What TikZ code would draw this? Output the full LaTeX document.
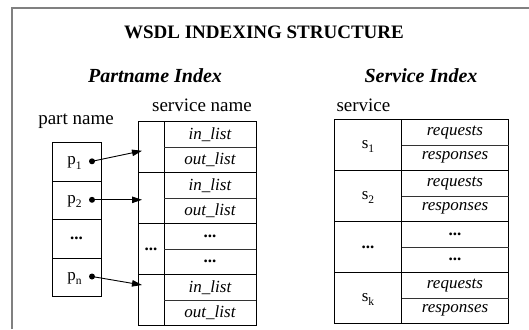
\documentclass[tikz,border=0pt]{standalone}
\usepackage{fontspec}
\setmainfont{Liberation Serif}
\usetikzlibrary{arrows.meta}
% subscript index set lower and larger than \textsubscript
\newcommand{\idx}[1]{\raisebox{-4.5pt}{\fontsize{11.5}{12}\selectfont #1}}
\begin{document}
\begin{tikzpicture}[x=1pt,y=-1pt,
  outerframe/.style={draw=black!50, line width=1.6pt},
  tablebox/.style={draw=black, line width=0.9pt},
  rowsep/.style={draw=black!80, line width=0.55pt, dash pattern=on 0.5pt off 0.5pt},
  heading/.style={font=\fontsize{19}{22}\selectfont\bfseries},
  subhead/.style={font=\fontsize{20}{24}\selectfont\bfseries\itshape},
  caption/.style={font=\fontsize{19}{22}\selectfont},
  cell/.style={font=\fontsize{17}{20}\selectfont},
  entry/.style={font=\fontsize{17}{20}\selectfont\itshape},
  link/.style={-{Triangle[length=10pt,width=6.5pt]}, line width=0.9pt},
  dotmark/.style={circle, fill=black, inner sep=0pt, minimum size=6pt}
]
\useasboundingbox (0,0) rectangle (529,329);
% outer frame
\draw[outerframe] (12,329) -- (12,8) -- (529,8);

% headings
\node[heading] (title) at (264,32) {WSDL INDEXING STRUCTURE};
\node[subhead] (pidx) at (155,76) {Partname Index};
\node[subhead] (sidx) at (421,76) {Service Index};
\node[caption] (snamelbl) at (202,105) {service name};
\node[caption, anchor=west] (svclbl) at (333,105) {service};
\node[caption] (pnamelbl) at (76,121) {part name};

% part name index
\draw[tablebox] (52,142.5) rectangle (101,296.5);
\foreach \y in {181,219.5,258} \draw[tablebox] (52,\y) -- (101,\y);
\node[cell] (p1) at (74.5,163) {p\idx{1}};
\node[cell] (p2) at (74.5,201.5) {p\idx{2}};
\node[cell] (pdots) at (76.5,238.75) {\textbf{...}};
\node[cell] (pn) at (74.5,278.5) {p\idx{n}};
\node[dotmark] (d1) at (92,161.3) {};
\node[dotmark] (d2) at (92,199.8) {};
\node[dotmark] (dn) at (92,276.5) {};

% service name lists
\draw[tablebox] (138,121.5) rectangle (256,325.5);
\draw[tablebox] (164,121.5) -- (164,325.5);
\foreach \y in {172.5,223.5,274.5} \draw[tablebox] (138,\y) -- (256,\y);
\foreach \y in {147,198,249,300} \draw[rowsep] (164,\y) -- (256,\y);
\node[entry] (in1) at (210,134.25) {in\_list};
\node[entry] (out1) at (210,159.75) {out\_list};
\node[entry] (in2) at (210,185.25) {in\_list};
\node[entry] (out2) at (210,210.75) {out\_list};
\node[cell] (ldots1) at (210,236.25) {\textbf{...}};
\node[cell] (ldots2) at (210,261.75) {\textbf{...}};
\node[cell] (ldots) at (151,249) {\textbf{...}};
\node[entry] (in4) at (210,287.25) {in\_list};
\node[entry] (out4) at (210,312.75) {out\_list};
\coordinate (t1) at (142,150.8);
\coordinate (t2) at (142,199.8);
\coordinate (tn) at (142,285);

% pointers from part names to service entries
\draw[link] (d1.center) -- (t1);
\draw[link] (d2.center) -- (t2);
\draw[link] (dn.center) -- (tn);

% service index
\draw[tablebox] (334,119.5) rectangle (508,323.5);
\draw[tablebox] (401.7,119.5) -- (401.7,323.5);
\foreach \y in {170.5,221.5,272.5} \draw[tablebox] (334,\y) -- (508,\y);
\foreach \y in {145,196,247,298} \draw[rowsep] (401.7,\y) -- (508,\y);
\node[cell] (s1) at (368,146.5) {s\idx{1}};
\node[cell] (s2) at (368,197.5) {s\idx{2}};
\node[cell] (sdots) at (368,247) {\textbf{...}};
\node[cell] (sk) at (368,299.5) {s\idx{k}};
\node[entry] (rq1) at (455,132.25) {requests};
\node[entry] (rs1) at (455,157.75) {responses};
\node[entry] (rq2) at (455,183.25) {requests};
\node[entry] (rs2) at (455,208.75) {responses};
\node[cell] (rdots1) at (455,234.25) {\textbf{...}};
\node[cell] (rdots2) at (455,259.75) {\textbf{...}};
\node[entry] (rqk) at (455,285.25) {requests};
\node[entry] (rsk) at (455,310.75) {responses};
\end{tikzpicture}
\end{document}
